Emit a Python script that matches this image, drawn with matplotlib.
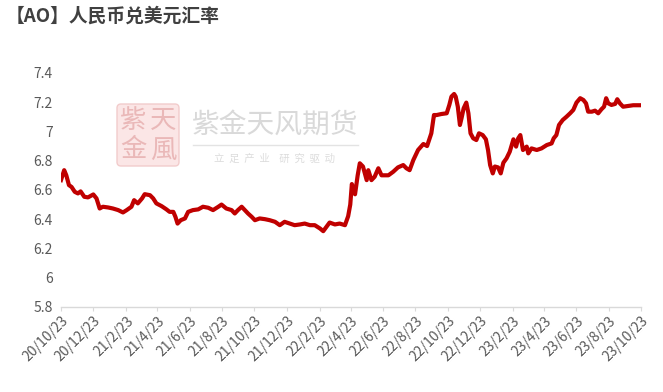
import numpy as np
import pandas as pd
import matplotlib
matplotlib.use("Agg")
import matplotlib.pyplot as plt
from matplotlib.ticker import FuncFormatter
from matplotlib.patches import FancyBboxPatch

plt.rcParams['font.family'] = ['Noto Sans CJK SC', 'DejaVu Sans']

# ---------------------------------------------------------
# datos (aprox.)
# ---------------------------------------------------------
fechas = [
    "2020-10-23", "2020-10-29", "2020-11-02", "2020-11-07", "2020-11-12", "2020-11-18",
    "2020-11-24", "2020-11-29", "2020-12-06", "2020-12-13", "2020-12-23", "2020-12-29",
    "2021-01-04", "2021-01-10", "2021-01-20", "2021-01-29", "2021-02-08", "2021-02-17",
    "2021-02-24", "2021-03-05", "2021-03-10", "2021-03-17", "2021-03-25", "2021-03-30",
    "2021-04-09", "2021-04-15", "2021-04-21", "2021-05-01", "2021-05-10", "2021-05-16",
    "2021-05-23", "2021-05-27", "2021-05-31", "2021-06-06", "2021-06-14", "2021-06-20",
    "2021-06-29", "2021-07-09", "2021-07-18", "2021-07-28", "2021-08-06", "2021-08-16",
    "2021-08-22", "2021-08-31", "2021-09-10", "2021-09-16", "2021-09-22", "2021-09-29",
    "2021-10-05", "2021-10-11", "2021-10-18", "2021-10-24", "2021-11-02", "2021-11-12",
    "2021-11-21", "2021-12-01", "2021-12-10", "2021-12-19", "2021-12-29", "2022-01-07",
    "2022-01-17", "2022-01-26", "2022-02-05", "2022-02-14", "2022-02-24", "2022-03-02",
    "2022-03-08", "2022-03-14", "2022-03-24", "2022-04-02", "2022-04-12", "2022-04-18",
    "2022-04-22", "2022-04-25", "2022-05-01", "2022-05-06", "2022-05-10", "2022-05-16",
    "2022-05-23", "2022-05-26", "2022-06-01", "2022-06-07", "2022-06-14", "2022-06-20",
    "2022-07-03", "2022-07-12", "2022-07-21", "2022-07-31", "2022-08-06", "2022-08-12",
    "2022-08-19", "2022-08-28", "2022-09-07", "2022-09-14", "2022-09-19", "2022-09-22",
    "2022-09-27", "2022-10-02", "2022-10-11", "2022-10-21", "2022-10-26", "2022-10-30",
    "2022-11-04", "2022-11-07", "2022-11-11", "2022-11-15", "2022-11-18", "2022-11-22",
    "2022-11-27", "2022-12-01", "2022-12-05", "2022-12-10", "2022-12-16", "2022-12-21",
    "2022-12-28", "2023-01-03", "2023-01-07", "2023-01-11", "2023-01-16", "2023-01-20",
    "2023-01-26", "2023-01-31", "2023-02-05", "2023-02-11", "2023-02-17", "2023-02-24",
    "2023-03-01", "2023-03-05", "2023-03-09", "2023-03-14", "2023-03-21", "2023-03-24",
    "2023-03-30", "2023-04-09", "2023-04-18", "2023-04-28", "2023-05-07", "2023-05-11",
    "2023-05-16", "2023-05-21", "2023-05-28", "2023-06-04", "2023-06-11", "2023-06-17",
    "2023-06-23", "2023-06-30", "2023-07-06", "2023-07-11", "2023-07-15", "2023-07-22",
    "2023-07-28", "2023-08-03", "2023-08-09", "2023-08-14", "2023-08-18", "2023-08-22",
    "2023-08-28", "2023-09-04", "2023-09-08", "2023-09-13", "2023-09-19", "2023-09-29",
    "2023-10-08", "2023-10-23",
]

tipo_cambio = [
    6.667, 6.735, 6.700, 6.633, 6.620, 6.587,
    6.576, 6.590, 6.553, 6.549, 6.569, 6.542,
    6.473, 6.485, 6.480, 6.473, 6.462, 6.446,
    6.462, 6.485, 6.530, 6.508, 6.542, 6.571,
    6.564, 6.542, 6.508, 6.489, 6.467, 6.450,
    6.450, 6.416, 6.370, 6.393, 6.405, 6.450,
    6.462, 6.467, 6.485, 6.478, 6.462, 6.485,
    6.500, 6.473, 6.462, 6.439, 6.462, 6.485,
    6.462, 6.439, 6.416, 6.393, 6.405, 6.400,
    6.393, 6.382, 6.359, 6.382, 6.370, 6.359,
    6.364, 6.370, 6.359, 6.359, 6.336, 6.318,
    6.347, 6.377, 6.364, 6.370, 6.359, 6.420,
    6.500, 6.640, 6.570, 6.700, 6.782, 6.760,
    6.667, 6.735, 6.667, 6.690, 6.748, 6.700,
    6.700, 6.724, 6.754, 6.770, 6.748, 6.735,
    6.804, 6.873, 6.914, 6.900, 6.953, 6.987,
    7.112, 7.112, 7.119, 7.124, 7.181, 7.238,
    7.256, 7.238, 7.169, 7.044, 7.090, 7.158,
    7.197, 7.124, 6.987, 6.953, 6.941, 6.987,
    6.975, 6.946, 6.873, 6.770, 6.713, 6.760,
    6.754, 6.713, 6.786, 6.816, 6.861, 6.946,
    6.896, 6.953, 6.975, 6.873, 6.896, 6.850,
    6.884, 6.873, 6.884, 6.907, 6.918, 6.953,
    6.975, 7.044, 7.078, 7.100, 7.124, 7.147,
    7.197, 7.227, 7.215, 7.192, 7.135, 7.135,
    7.142, 7.124, 7.151, 7.169, 7.227, 7.192,
    7.181, 7.188, 7.220, 7.192, 7.169, 7.174,
    7.179, 7.179,
]

y_ticks = [5.8, 6.0, 6.2, 6.4, 6.6, 6.8, 7.0, 7.2, 7.4]

fechas = pd.to_datetime(fechas)
x_ticks = pd.date_range("2020-10-01", "2023-10-01", freq="2MS") + pd.Timedelta(days=22)

# ---------------------------------------------------------
# gráfica
# ---------------------------------------------------------
fig = plt.figure(figsize=(6.63, 3.92), dpi=100)
ax = fig.add_axes([0.092, 0.217, 0.875, 0.597])

ax.plot(fechas, tipo_cambio, color="#C00000", linewidth=3.0, solid_joinstyle="round", zorder=3)

ax.set_xlim(fechas[0], fechas[-1])
ax.set_ylim(5.8, 7.4)
ax.set_yticks(y_ticks)
ax.set_xticks(x_ticks)

ax.yaxis.set_major_formatter(FuncFormatter(lambda v, p: f"{v:g}"))
ax.xaxis.set_major_formatter(FuncFormatter(
    lambda v, p: "{}/{}/{}".format(matplotlib.dates.num2date(v).year % 100,
                                   matplotlib.dates.num2date(v).month,
                                   matplotlib.dates.num2date(v).day)))

for s in ["left", "right", "top"]:
    ax.spines[s].set_visible(False)
ax.spines["bottom"].set_color("#d9d9d9")
ax.spines["bottom"].set_linewidth(1.0)

ax.tick_params(axis="y", length=0, labelsize=10, labelcolor="#595959", pad=6)
ax.tick_params(axis="x", length=3, color="#d9d9d9", labelsize=10, labelcolor="#595959", pad=2)
for lab in ax.get_xticklabels():
    lab.set_rotation(45)
    lab.set_ha("right")
    lab.set_rotation_mode("anchor")

# título
fig.text(0.008, 0.958, "【AO】人民币兑美元汇率", fontsize=13.5, fontweight="bold",
         color="#404040", va="center", ha="left")

# marca de agua
logo = FancyBboxPatch((117, 226), 62, 62, boxstyle="round,pad=0,rounding_size=4",
                      transform=None, facecolor="#fbe6e6", edgecolor="#f2cccc",
                      linewidth=1, zorder=1)
fig.patches.append(logo)
for txt, (px, py) in zip(["紫", "天", "金", "風"],
                         [(133, 272), (163, 272), (133, 242), (163, 242)]):
    fig.text(px / 663, py / 392, txt, fontsize=19, color="#eab8b8",
             ha="center", va="center", zorder=2)
fig.text(275 / 663, 267 / 392, "紫金天风期货", fontsize=20, color="#d9d9d9",
         ha="center", va="center")
fig.add_artist(plt.Line2D([193 / 663, 358 / 663], [247 / 392, 247 / 392],
                          color="#e3e3e3", linewidth=1))
fig.text(275 / 663, 233 / 392, "立  足  产  业    研  究  驱  动", fontsize=7.5, color="#dcdcdc",
         ha="center", va="center")

fig.savefig("out.png", dpi=100)
